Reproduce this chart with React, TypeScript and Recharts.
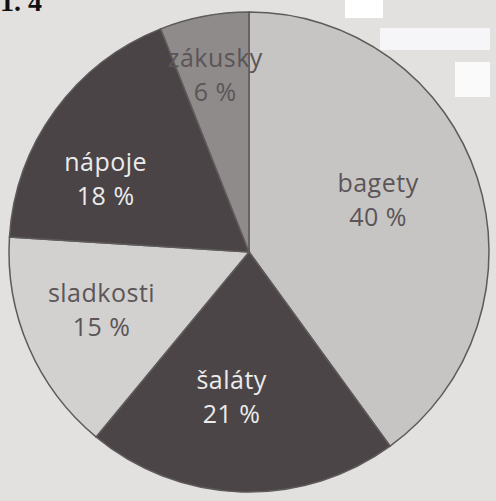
import { PieChart, Pie, Cell } from "recharts";

const CATEGORIES = ["bagety", "šaláty", "sladkosti", "nápoje", "zákusky"];
const SHARES = [40, 21, 15, 18, 6];

const FILLS = ["#c6c5c3", "#4b4547", "#d2d1cf", "#4a4446", "#8f8b8b"];
const TEXT_COLORS = ["#5b5557", "#ecebeb", "#5b5557", "#ecebeb", "#5b5557"];
// label distance from the centre (share of radius) and a small turn off the mid angle
const LABEL_RATIO = [0.58, 0.61, 0.66, 0.67, 0.75];
const LABEL_TURN = [4, -5, -2, 9, 0];

const data = CATEGORIES.map((name, i) => ({ name, value: SHARES[i] }));

const RAD = Math.PI / 180;

function renderLabel(props: any) {
  const { cx, cy, midAngle, outerRadius, index, name, value } = props;
  const r = outerRadius * LABEL_RATIO[index];
  const a = midAngle + LABEL_TURN[index];
  const x = cx + r * Math.cos(-a * RAD);
  const y = cy + r * Math.sin(-a * RAD);
  return (
    <text
      x={x}
      y={y}
      textAnchor="middle"
      fill={TEXT_COLORS[index]}
      fontFamily="'Open Sans', sans-serif"
      fontSize={25}
      letterSpacing={0.5}
    >
      <tspan x={x} dy={-8}>{name}</tspan>
      <tspan x={x} dy={34}>{value} %</tspan>
    </text>
  );
}

export default function App() {
  return (
    <div
      style={{
        position: "fixed",
        left: 0,
        top: 0,
        width: 496,
        height: 501,
        background: "#e2e1df",
        overflow: "hidden",
      }}
    >
      <div
        style={{
          position: "absolute",
          left: 0,
          top: -14,
          fontFamily: "'Liberation Serif', serif",
          fontWeight: "bold",
          fontSize: 28,
          color: "#111",
        }}
      >
        1. 4
      </div>
      <div style={{ position: "absolute", left: 345, top: 0, width: 38, height: 18, background: "#fff" }} />
      <div style={{ position: "absolute", left: 380, top: 28, width: 110, height: 22, background: "#f6f6f8" }} />
      <div style={{ position: "absolute", left: 455, top: 62, width: 35, height: 35, background: "#fafafa" }} />
      <div style={{ position: "absolute", left: 0, top: 0 }}>
        <PieChart width={496} height={501} margin={{ top: 0, right: 0, bottom: 0, left: 0 }}>
          <Pie
            data={data}
            dataKey="value"
            nameKey="name"
            cx={249}
            cy={252}
            outerRadius={240}
            startAngle={90}
            endAngle={-270}
            stroke="#5e5a5a"
            strokeWidth={1.5}
            labelLine={false}
            label={renderLabel}
            isAnimationActive={false}
          >
            {data.map((_, i) => (
              <Cell key={i} fill={FILLS[i]} />
            ))}
          </Pie>
        </PieChart>
      </div>
    </div>
  );
}
